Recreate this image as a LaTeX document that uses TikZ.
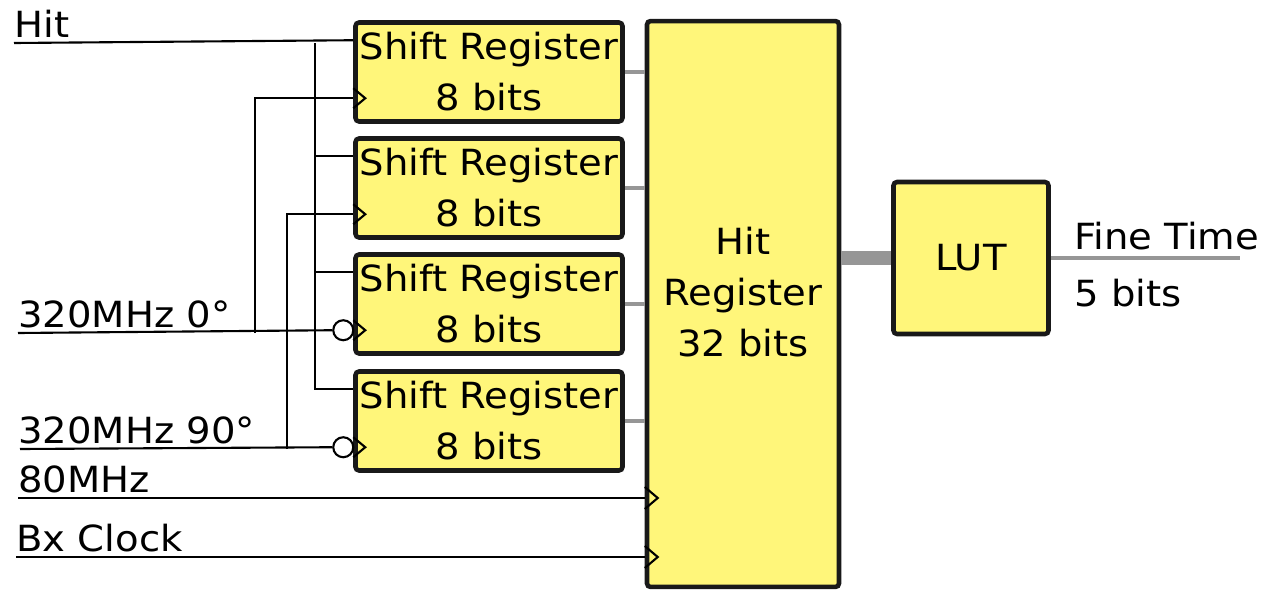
\documentclass[tikz,border=0pt]{standalone}
\usepackage{fontspec}
\setmainfont{DejaVu Sans}[FakeStretch=1.07]
\usetikzlibrary{positioning,calc}
\definecolor{regyellow}{RGB}{255,246,122}
\definecolor{busgray}{RGB}{150,150,150}

\begin{document}
\begin{tikzpicture}[x=0.02cm,y=-0.02cm,
    font=\fontsize{20.5}{29}\selectfont,
    reg/.style={draw=black!90,line width=2.6pt,fill=regyellow,rounded corners=2pt,inner sep=0pt,align=center},
    wire/.style={line width=1.2pt},
    bus/.style={line width=2.6pt,busgray},
    clk/.style={line width=1.2pt},
    bubble/.style={circle,draw,line width=1.2pt,fill=white,inner sep=0pt,minimum size=0.4cm},
    sig/.style={anchor=base west,inner sep=0pt}]

  \useasboundingbox (0,0) rectangle (1269,592);

  % four shift registers, data pin and clock pin on each
  \foreach \i/\y in {1/72,2/188,3/304,4/421} {
    \node[reg,minimum width=5.34cm,minimum height=1.98cm] (sr\i) at (489,\y) {Shift Register\\8 bits};
    \coordinate (sr\i-d) at ($(sr\i.north west)+(0,20)$);
    \coordinate (sr\i-c) at ($(sr\i.north west)+(0,78)$);
  }

  \node[reg,minimum width=3.84cm,minimum height=11.32cm] (hitreg) at (743,304) {};
  \node[align=center] (hitlbl) at (743,292) {Hit\\Register\\32 bits};
  \node[reg,minimum width=3.1cm,minimum height=3.04cm] (lut) at (971,258) {LUT};

  % register outputs
  \foreach \i in {1,...,4}
    \draw[bus] (sr\i.east) -- (sr\i.east -| hitreg.west);
  \draw[busgray,line width=8pt] (lut.west -| hitreg.east) -- (lut.west);
  \coordinate (ftend) at (1240,258);
  \draw[bus] (lut.east) -- (ftend);
  \node[sig] (ftlbl) at (1074,249) {Fine Time};
  \node[sig] (ftbits) at (1074,306) {5 bits};

  % inputs
  \coordinate (hitin) at (14,43);
  \coordinate (ck0in) at (18,333);
  \coordinate (ck90in) at (20,449);
  \coordinate (ck80in) at (18,498);
  \coordinate (bxin) at (16,557);
  \node[sig] (hitname) at (14,37) {Hit};
  \node[sig] (ck0name) at (18,327) {320MHz 0°};
  \node[sig] (ck90name) at (18,443) {320MHz 90°};
  \node[sig] (ck80name) at (18,492) {80MHz};
  \node[sig] (bxname) at (16,551) {Bx Clock};

  % hit fans out to all four
  \draw[wire] (hitin) -- (sr1-d);
  \coordinate (hitbus) at (315,43);
  \draw[wire] (hitbus) |- (sr4-d);
  \foreach \i in {2,3}
    \draw[wire] (hitbus |- sr\i-d) -- (sr\i-d);

  % 0 and 90 degree clocks, inverted on the lower two
  \node[bubble] (bub3) at ($(sr3-c)+(-10,0)$) {};
  \node[bubble] (bub4) at ($(sr4-c)+(-10,0)$) {};
  \draw[wire] (ck0in) -- (bub3.west);
  \draw[wire] (ck90in) -- (bub4.west);
  \coordinate (ck0bus) at (255,333);
  \coordinate (ck90bus) at (287,449);
  \draw[wire] (ck0bus) |- (sr1-c);
  \draw[wire] (ck90bus) |- (sr2-c);
  \foreach \i in {1,...,4}
    \draw[clk] ($(sr\i-c)+(0,-10)$) -- ++(12,10) -- ++(-12,10);

  % clocks of the hit register
  \foreach \c in {ck80in,bxin} {
    \draw[wire] (\c) -- (\c -| hitreg.west);
    \draw[clk] ($(\c -| hitreg.west)+(0,-11)$) -- ++(13,11) -- ++(-13,11);
  }
\end{tikzpicture}
\end{document}
